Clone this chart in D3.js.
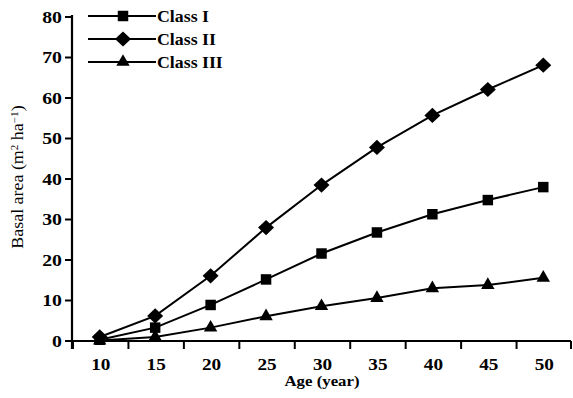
<!DOCTYPE html>
<html lang="en">
<head>
<meta charset="utf-8">
<script src="https://d3js.org/d3.v7.min.js"></script>
<style>
  body { margin: 0; background: #fff; }
  svg text { font-family: "Liberation Serif", "Times New Roman", serif; fill: #000; }
</style>
</head>
<body>
<div id="chart"></div>
<script>
// data
var ages = [10, 15, 20, 25, 30, 35, 40, 45, 50];
var classI = [0.3, 3.3, 8.9, 15.2, 21.6, 26.8, 31.3, 34.8, 38.0];
var classII = [1.0, 6.2, 16.1, 28.0, 38.5, 47.8, 55.7, 62.1, 68.1];
var classIII = [0.1, 1.0, 3.3, 6.1, 8.6, 10.6, 13.0, 13.8, 15.6];
var yTicks = [0, 10, 20, 30, 40, 50, 60, 70, 80];

// wide diamond like the original marker
var wideDiamond = {
  draw: function (ctx, size) {
    var r = Math.sqrt(size / 2);
    ctx.moveTo(0, -r * 0.95);
    ctx.lineTo(r, 0);
    ctx.lineTo(0, r * 0.95);
    ctx.lineTo(-r, 0);
    ctx.closePath();
  }
};

var series = [
  { name: "Class I", values: classI, shape: d3.symbolSquare, size: 110 },
  { name: "Class II", values: classII, shape: wideDiamond, size: 128 },
  { name: "Class III", values: classIII, shape: d3.symbolTriangle, size: 78 }
];

var width = 573, height = 398;
var svg = d3.select("#chart").append("svg")
  .attr("width", width)
  .attr("height", height);

var x = d3.scaleBand().domain(ages).range([72, 571]);
var y = d3.scaleLinear().domain([0, 80]).range([341, 17]);
var cx = function (a) { return x(a) + x.bandwidth() / 2; };

// the printed text is a bit wider than plain Times
function label(g, px, py, sx) {
  return g.append("text")
    .attr("transform", "translate(" + px + "," + py + ") scale(" + sx + ",1)");
}

// x axis
var gx = svg.append("g").attr("transform", "translate(0," + y(0) + ")");
gx.append("line")
  .attr("x1", 65).attr("x2", 571)
  .attr("stroke", "#000").attr("stroke-width", 2.2);
gx.selectAll(".xt").data(ages.map(function (a) { return x(a) + 1; }).concat([571]))
  .enter().append("line")
  .attr("x1", function (d) { return d; })
  .attr("x2", function (d) { return d; })
  .attr("y1", 0).attr("y2", 8)
  .attr("stroke", "#000").attr("stroke-width", 2);
ages.forEach(function (a) {
  label(gx, cx(a) + 1, 29, 1.2)
    .attr("text-anchor", "middle")
    .style("font-size", "16px")
    .style("font-weight", "bold")
    .text(a);
});

// y axis
var gy = svg.append("g").attr("transform", "translate(72,0)");
gy.append("line")
  .attr("y1", y(80) - 2).attr("y2", 349)
  .attr("stroke", "#000").attr("stroke-width", 2.2);
gy.selectAll(".yt").data(yTicks)
  .enter().append("line")
  .attr("x1", -7).attr("x2", 0)
  .attr("y1", function (d) { return y(d); })
  .attr("y2", function (d) { return y(d); })
  .attr("stroke", "#000").attr("stroke-width", 2);
yTicks.forEach(function (t) {
  label(gy, -10, y(t), 1.2)
    .attr("dy", "0.35em")
    .attr("text-anchor", "end")
    .style("font-size", "16.5px")
    .style("font-weight", "bold")
    .text(t);
});

// axis titles
label(svg, 322, 386, 1.12)
  .attr("text-anchor", "middle")
  .style("font-size", "15px")
  .style("font-weight", "bold")
  .text("Age (year)");

var yt = svg.append("text")
  .attr("transform", "translate(23,177) rotate(-90) scale(1.12,1)")
  .attr("text-anchor", "middle")
  .style("font-size", "16px");
yt.append("tspan").text("Basal area (m");
yt.append("tspan").attr("baseline-shift", "super").style("font-size", "10px").text("2");
yt.append("tspan").text(" ha");
yt.append("tspan").attr("baseline-shift", "super").style("font-size", "10px").text("\u22121");
yt.append("tspan").text(")");

// lines and markers
var line = d3.line()
  .x(function (d, i) { return cx(ages[i]); })
  .y(function (d) { return y(d); });

series.forEach(function (s) {
  svg.append("path")
    .datum(s.values)
    .attr("fill", "none")
    .attr("stroke", "#000")
    .attr("stroke-width", 2)
    .attr("d", line);
  svg.selectAll(null).data(s.values)
    .enter().append("path")
    .attr("transform", function (d, i) {
      return "translate(" + cx(ages[i]) + "," + y(d) + ")";
    })
    .attr("d", d3.symbol().type(s.shape).size(s.size))
    .attr("fill", "#000");
});

// legend
var leg = svg.append("g");
series.forEach(function (s, i) {
  var ly = 16 + i * 23;
  leg.append("line")
    .attr("x1", 88).attr("x2", 156)
    .attr("y1", ly).attr("y2", ly)
    .attr("stroke", "#000").attr("stroke-width", 2);
  leg.append("path")
    .attr("transform", "translate(123," + ly + ")")
    .attr("d", d3.symbol().type(s.shape).size(s.size))
    .attr("fill", "#000");
  label(leg, 157, ly, 1.08)
    .attr("dy", "0.35em")
    .style("font-size", "16.5px")
    .style("font-weight", "bold")
    .text(s.name);
});
</script>
</body>
</html>
